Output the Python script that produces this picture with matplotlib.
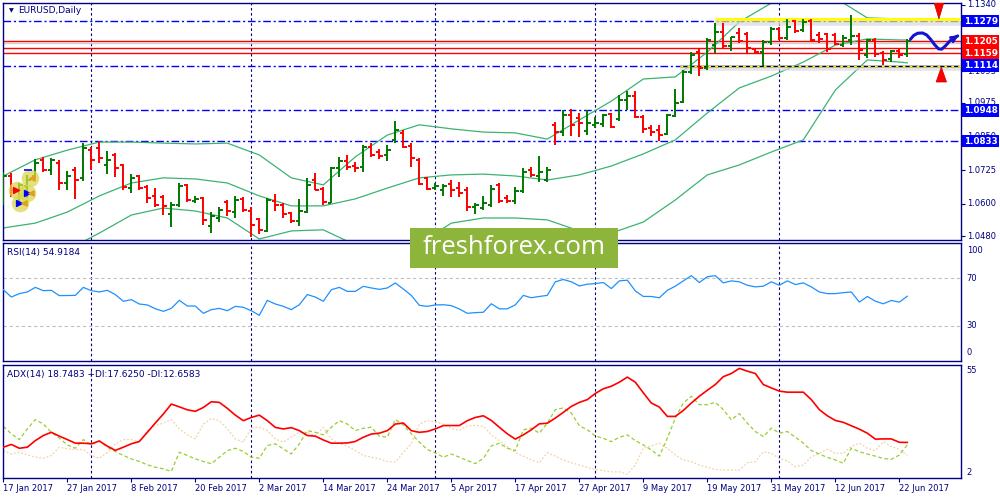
import numpy as np
import matplotlib.pyplot as plt
from matplotlib.patches import Polygon, Rectangle

# values (bar index 0 = 17 Jan 2017, 114 daily bars)
date_labels = ["17 Jan 2017", "27 Jan 2017", "8 Feb 2017", "20 Feb 2017", "2 Mar 2017",
               "14 Mar 2017", "24 Mar 2017", "5 Apr 2017", "17 Apr 2017", "27 Apr 2017",
               "9 May 2017", "19 May 2017", "31 May 2017", "12 Jun 2017", "22 Jun 2017"]
label_bars = [0, 8, 16, 24, 32, 40, 48, 56, 64, 72, 80, 88, 96, 104, 112]
month_start = [11, 31, 54, 74, 97]

open_ = [1.0622, 1.0704, 1.0652, 1.0667, 1.0704, 1.0763, 1.0726, 1.0752, 1.0678, 1.0726,
         1.0697, 1.0801, 1.0808, 1.0745, 1.0782, 1.0745, 1.0659, 1.0704, 1.0663, 1.0630,
         1.0626, 1.0563, 1.0596, 1.0671, 1.0611, 1.0622, 1.0518, 1.0548, 1.0607, 1.0570,
         1.0619, 1.0574, 1.0544, 1.0500, 1.0611, 1.0596, 1.0567, 1.0537, 1.0570, 1.0689,
         1.0656, 1.0604, 1.0734, 1.0760, 1.0741, 1.0737, 1.0812, 1.0793, 1.0782, 1.0838,
         1.0864, 1.0815, 1.0763, 1.0697, 1.0659, 1.0652, 1.0674, 1.0659, 1.0652, 1.0589,
         1.0585, 1.0596, 1.0671, 1.0622, 1.0611, 1.0648, 1.0726, 1.0704, 1.0689, 1.0894,
         1.0867, 1.0931, 1.0919, 1.0871, 1.0894, 1.0897, 1.0934, 1.0916, 1.0986, 1.1001,
         1.0923, 1.0882, 1.0875, 1.0860, 1.0927, 1.0979, 1.1090, 1.1164, 1.1105, 1.1190,
         1.1239, 1.1187, 1.1235, 1.1231, 1.1176, 1.1164, 1.1202, 1.1250, 1.1216, 1.1280,
         1.1246, 1.1280, 1.1228, 1.1231, 1.1228, 1.1190, 1.1209, 1.1224, 1.1153, 1.1209,
         1.1161, 1.1138, 1.1168, 1.1157]
high = [1.0719, 1.0715, 1.0678, 1.0708, 1.0767, 1.0775, 1.0771, 1.0763, 1.0723, 1.0737,
        1.0827, 1.0812, 1.0830, 1.0797, 1.0789, 1.0749, 1.0711, 1.0708, 1.0671, 1.0659,
        1.0633, 1.0607, 1.0678, 1.0674, 1.0630, 1.0626, 1.0570, 1.0589, 1.0615, 1.0630,
        1.0626, 1.0589, 1.0548, 1.0622, 1.0637, 1.0604, 1.0570, 1.0619, 1.0697, 1.0715,
        1.0663, 1.0737, 1.0775, 1.0782, 1.0756, 1.0819, 1.0827, 1.0804, 1.0819, 1.0908,
        1.0875, 1.0827, 1.0771, 1.0700, 1.0678, 1.0674, 1.0689, 1.0682, 1.0663, 1.0604,
        1.0630, 1.0671, 1.0678, 1.0633, 1.0663, 1.0734, 1.0737, 1.0778, 1.0737, 1.0905,
        1.0949, 1.0953, 1.0938, 1.0949, 1.0923, 1.0934, 1.0938, 1.1005, 1.1020, 1.1020,
        1.0931, 1.0894, 1.0894, 1.0934, 1.1027, 1.1098, 1.1164, 1.1179, 1.1216, 1.1272,
        1.1272, 1.1220, 1.1254, 1.1239, 1.1179, 1.1209, 1.1257, 1.1257, 1.1287, 1.1283,
        1.1287, 1.1287, 1.1239, 1.1235, 1.1235, 1.1228, 1.1302, 1.1235, 1.1213, 1.1216,
        1.1168, 1.1172, 1.1176, 1.1213]
low = [1.0596, 1.0626, 1.0596, 1.0622, 1.0697, 1.0719, 1.0708, 1.0652, 1.0652, 1.0619,
       1.0685, 1.0726, 1.0752, 1.0711, 1.0700, 1.0652, 1.0641, 1.0652, 1.0604, 1.0589,
       1.0559, 1.0515, 1.0589, 1.0607, 1.0604, 1.0522, 1.0492, 1.0533, 1.0555, 1.0548,
       1.0570, 1.0478, 1.0489, 1.0496, 1.0574, 1.0548, 1.0529, 1.0518, 1.0567, 1.0652,
       1.0596, 1.0604, 1.0700, 1.0726, 1.0719, 1.0719, 1.0775, 1.0767, 1.0760, 1.0827,
       1.0808, 1.0737, 1.0671, 1.0652, 1.0652, 1.0630, 1.0626, 1.0626, 1.0574, 1.0563,
       1.0578, 1.0589, 1.0604, 1.0604, 1.0600, 1.0641, 1.0700, 1.0682, 1.0682, 1.0819,
       1.0853, 1.0853, 1.0849, 1.0856, 1.0882, 1.0886, 1.0882, 1.0908, 1.0949, 1.0919,
       1.0864, 1.0853, 1.0834, 1.0856, 1.0923, 1.0975, 1.1083, 1.1075, 1.1098, 1.1161,
       1.1176, 1.1168, 1.1198, 1.1161, 1.1161, 1.1112, 1.1190, 1.1209, 1.1209, 1.1235,
       1.1239, 1.1202, 1.1198, 1.1164, 1.1190, 1.1183, 1.1190, 1.1135, 1.1142, 1.1146,
       1.1116, 1.1127, 1.1142, 1.1146]
close = [1.0704, 1.0652, 1.0671, 1.0689, 1.0752, 1.0726, 1.0763, 1.0678, 1.0704, 1.0689,
         1.0808, 1.0763, 1.0771, 1.0763, 1.0734, 1.0663, 1.0697, 1.0659, 1.0622, 1.0596,
         1.0593, 1.0596, 1.0667, 1.0615, 1.0619, 1.0541, 1.0555, 1.0578, 1.0574, 1.0615,
         1.0578, 1.0522, 1.0504, 1.0615, 1.0596, 1.0563, 1.0537, 1.0574, 1.0671, 1.0652,
         1.0607, 1.0734, 1.0760, 1.0737, 1.0734, 1.0812, 1.0782, 1.0778, 1.0801, 1.0875,
         1.0812, 1.0771, 1.0674, 1.0656, 1.0667, 1.0667, 1.0652, 1.0641, 1.0589, 1.0596,
         1.0604, 1.0656, 1.0611, 1.0611, 1.0648, 1.0719, 1.0708, 1.0719, 1.0726, 1.0867,
         1.0931, 1.0894, 1.0901, 1.0901, 1.0901, 1.0931, 1.0886, 1.0986, 1.1001, 1.0923,
         1.0879, 1.0867, 1.0856, 1.0931, 1.0975, 1.1090, 1.1153, 1.1105, 1.1209, 1.1239,
         1.1187, 1.1220, 1.1205, 1.1179, 1.1164, 1.1202, 1.1250, 1.1216, 1.1257, 1.1242,
         1.1276, 1.1209, 1.1213, 1.1176, 1.1194, 1.1216, 1.1224, 1.1172, 1.1209, 1.1157,
         1.1135, 1.1168, 1.1153, 1.1205]

# Bollinger bands, read every 4th bar
band_bars = [0, 4, 8, 12, 16, 20, 24, 28, 32, 36, 40, 44, 48, 52, 56, 60, 64, 68, 72, 76,
             80, 84, 88, 92, 96, 100, 104, 108, 112, 113]
bb_upper = [1.0704, 1.0764, 1.0800, 1.0830, 1.0830, 1.0826, 1.0823, 1.0826, 1.0782, 1.0697,
            1.0671, 1.0775, 1.0856, 1.0894, 1.0879, 1.0867, 1.0864, 1.0841, 1.0912, 1.0982,
            1.1064, 1.1072, 1.1164, 1.1276, 1.1346, 1.1413, 1.1365, 1.1291, 1.1287, 1.1287]
bb_mid = [1.0511, 1.0529, 1.0570, 1.0630, 1.0678, 1.0697, 1.0693, 1.0678, 1.0630, 1.0593,
          1.0593, 1.0619, 1.0659, 1.0697, 1.0708, 1.0711, 1.0704, 1.0689, 1.0708, 1.0741,
          1.0786, 1.0838, 1.0938, 1.1031, 1.1075, 1.1127, 1.1190, 1.1213, 1.1209, 1.1209]
bb_lower = [1.0429, 1.0422, 1.0429, 1.0492, 1.0559, 1.0585, 1.0574, 1.0548, 1.0470, 1.0500,
            1.0504, 1.0448, 1.0422, 1.0452, 1.0529, 1.0548, 1.0548, 1.0541, 1.0500, 1.0492,
            1.0533, 1.0615, 1.0708, 1.0745, 1.0793, 1.0838, 1.1023, 1.1135, 1.1127, 1.1124]

rsi = [60.4, 54.2, 57.1, 58.5, 62.4, 59.6, 59.9, 55.4, 55.5, 55.6,
       62.4, 59.6, 58.5, 59.9, 56.3, 50.6, 52.0, 48.3, 47.5, 44.3,
       42.1, 44.6, 51.4, 46.6, 46.6, 40.4, 43.5, 44.6, 42.6, 46.3,
       45.5, 42.6, 38.7, 51.4, 48.3, 46.3, 43.5, 47.7, 56.3, 54.2,
       50.6, 60.4, 62.4, 59.0, 59.0, 63.3, 61.9, 60.7, 61.9, 66.1,
       61.0, 55.6, 47.2, 46.3, 47.5, 47.7, 46.9, 44.1, 40.4, 41.0,
       41.3, 48.5, 44.2, 44.2, 47.6, 55.6, 53.6, 54.7, 55.6, 67.1,
       69.1, 67.1, 63.6, 65.1, 65.6, 66.5, 61.4, 67.9, 68.5, 59.4,
       54.7, 54.7, 53.6, 59.9, 63.4, 67.9, 72.3, 66.5, 71.4, 72.3,
       66.2, 67.9, 67.1, 64.2, 62.8, 63.4, 67.1, 64.2, 67.9, 64.8,
       66.2, 62.8, 58.5, 57.1, 57.1, 57.9, 58.5, 49.9, 54.7, 50.7,
       48.5, 51.3, 49.9, 54.9]

adx = [16.5, 17.8, 16.0, 16.5, 19.6, 22.0, 23.5, 21.7, 20.1, 18.4,
       18.4, 18.1, 19.4, 17.0, 15.0, 16.5, 18.1, 19.2, 23.5, 27.9,
       32.1, 36.8, 35.5, 34.1, 33.4, 35.2, 37.9, 37.6, 34.8, 31.6,
       29.0, 30.5, 31.6, 29.0, 25.8, 25.1, 25.7, 24.3, 22.0, 21.7,
       19.9, 18.4, 18.4, 18.5, 19.2, 21.2, 22.7, 23.1, 24.3, 27.4,
       27.9, 24.3, 23.5, 23.9, 25.1, 26.7, 26.7, 26.7, 29.0, 30.5,
       31.3, 29.1, 25.9, 22.8, 20.3, 22.3, 24.7, 27.5, 27.8, 30.2,
       32.9, 35.7, 37.6, 38.9, 41.8, 44.0, 45.2, 47.1, 49.5, 47.1,
       42.1, 37.3, 35.4, 31.0, 31.0, 33.8, 37.3, 40.5, 43.3, 46.0,
       49.7, 51.2, 53.6, 52.3, 51.2, 46.0, 44.4, 42.9, 42.4, 42.4,
       42.4, 38.9, 34.2, 31.3, 29.1, 28.2, 26.6, 25.0, 23.1, 20.3,
       20.4, 20.4, 18.8, 18.75]
plus_di = [26.3, 22.8, 20.1, 25.1, 29.5, 27.4, 23.5, 20.8, 17.6, 16.0,
           20.1, 17.6, 19.6, 16.5, 14.5, 12.6, 11.0, 9.8, 8.2, 7.1,
           6.3, 5.1, 14.1, 12.6, 11.0, 9.8, 8.7, 11.8, 14.9, 16.0,
           14.5, 11.8, 11.3, 17.3, 18.1, 15.7, 13.3, 18.1, 24.3, 23.5,
           22.3, 25.9, 29.0, 27.4, 24.3, 25.4, 25.9, 21.7, 21.2, 29.5,
           27.0, 22.8, 18.9, 15.4, 13.8, 11.8, 13.3, 11.8, 10.2, 8.8,
           11.2, 17.1, 18.4, 16.0, 14.9, 24.7, 25.5, 23.1, 27.8, 34.2,
           35.0, 32.6, 26.6, 24.7, 21.8, 20.7, 19.1, 21.2, 22.3, 19.6,
           17.6, 15.2, 12.3, 20.7, 30.2, 37.3, 40.5, 36.5, 36.5, 37.6,
           34.2, 29.4, 32.3, 27.8, 23.9, 21.5, 25.5, 23.1, 23.9, 21.2,
           18.4, 14.9, 13.3, 11.7, 10.5, 8.9, 16.0, 14.4, 13.3, 12.3,
           11.2, 10.8, 12.8, 17.6]
minus_di = [14.9, 13.3, 14.1, 12.9, 11.8, 11.3, 12.6, 16.5, 15.7, 15.4,
            15.4, 12.6, 11.3, 14.1, 18.1, 20.1, 20.1, 18.9, 24.3, 26.6,
            27.9, 29.5, 25.1, 22.3, 20.4, 27.4, 30.0, 29.0, 25.1, 20.4,
            18.9, 25.6, 25.9, 24.3, 20.4, 18.9, 21.2, 23.5, 23.5, 22.0,
            25.9, 20.4, 18.1, 17.0, 14.9, 12.6, 11.8, 11.0, 9.8, 9.5,
            14.1, 18.1, 27.4, 29.0, 28.5, 27.4, 25.4, 24.3, 26.6, 26.8,
            26.3, 22.3, 19.6, 16.8, 13.9, 12.3, 10.5, 9.2, 13.9, 12.3,
            10.5, 9.2, 8.1, 7.0, 6.0, 5.4, 4.9, 4.9, 3.8, 8.1,
            16.0, 17.1, 18.4, 16.0, 12.8, 10.5, 9.7, 8.1, 7.0, 6.0,
            5.7, 5.7, 5.7, 9.2, 9.7, 14.4, 13.6, 11.2, 10.1, 7.3,
            8.1, 12.0, 13.6, 15.5, 13.6, 13.6, 16.8, 18.4, 16.0, 14.9,
            19.1, 16.8, 15.5, 12.66]

blue_levels = [1.1279, 1.1114, 1.0948, 1.0833]
red_levels = [1.1205, 1.1178, 1.1159]
price_ticks = [1.1340, 1.1215, 1.1093, 1.0975, 1.0850, 1.0725, 1.0600, 1.0480]
tick_labels = [1.1340, 1.1093, 1.0975, 1.0850, 1.0725, 1.0600, 1.0480]

NAVY = "#000080"
plt.rcParams["font.family"] = ["DejaVu Sans"]

fig = plt.figure(figsize=(10, 5), dpi=100)
W, H = 1000, 500
def box(x0, y0, x1, y1):
    return [x0 / W, 1 - y1 / H, (x1 - x0) / W, (y1 - y0) / H]

ax = fig.add_axes(box(3, 3, 961, 240))
ax_rsi = fig.add_axes(box(3, 243, 961, 361))
ax_adx = fig.add_axes(box(3, 365, 961, 478))

n = len(close)
x = np.arange(n)
xlim = (-0.04, -0.04 + 958 / 8)
for a in (ax, ax_rsi, ax_adx):
    a.set_xlim(*xlim)
    for s in a.spines.values():
        s.set_color(NAVY)
        s.set_linewidth(1)
    a.set_xticks([])
    a.set_yticks([])
    for m in month_start:
        a.axvline(m, color=NAVY, lw=0.8, ls=(0, (2.3, 2.3)), zorder=1)

# ---- price panel ----
ax.set_ylim(1.04663, 1.13463)
for p in blue_levels:
    ax.axhline(p, color="#0000ff", lw=1, ls=(0, (5.5, 2, 1.5, 2)), zorder=1.5)
ax.axhline(1.1197, color="#d0d0d0", lw=1, zorder=1.5)
for p in red_levels:
    ax.axhline(p, color="#ff0000", lw=1, zorder=1.6)

ax.plot(band_bars, bb_upper, color="#3cb371", lw=0.9, zorder=2)
ax.plot(band_bars, bb_mid, color="#3cb371", lw=0.9, zorder=2)
ax.plot(band_bars, bb_lower, color="#3cb371", lw=0.9, zorder=2)

o = np.array(open_); c = np.array(close)
cols = np.where(c >= o, "#007800", "#ff0000")
ax.vlines(x, low, high, colors=cols, lw=1.4, zorder=3)
ax.hlines(o, x - 0.42, x, colors=cols, lw=1.4, zorder=3)
ax.hlines(c, x, x + 0.42, colors=cols, lw=1.4, zorder=3)

# shaded yellow range markers drawn on the chart
ax.hlines(1.1272, 88.9, xlim[1], color="#d9d9d9", lw=4, alpha=0.7, zorder=2.5)
ax.hlines(1.1287, 88.9, xlim[1], color="#ffff00", lw=2.2, zorder=2.6)
ax.hlines(1.1106, 84.6, xlim[1], color="#d9d9d9", lw=4, alpha=0.7, zorder=2.5)
ax.hlines(1.1114, 84.6, xlim[1], color="black", lw=1, zorder=2.6)
ax.hlines(1.1114, 84.6, xlim[1], color="#ffff00", lw=1, ls=(0, (2, 3)), zorder=2.7)

# trade markers at the left edge
ax.scatter([3.3, 1.7, 3.0, 2.1], [1.0697, 1.0652, 1.0641, 1.0604], s=160,
           color="#dcd850", alpha=0.75, lw=0, zorder=3.5)
ax.scatter([1.6], [1.0652], marker=">", s=18, color="#ff0000", zorder=4)
ax.scatter([2.9, 1.9], [1.0641, 1.0604], marker=">", s=18, color="#0000ff", zorder=4)
ax.scatter([3.6, 2.6, 3.4], [1.0697, 1.0604, 1.0641], marker="<", s=14, color="#e0a020", zorder=4)
ax.hlines(1.0728, 2.6, 3.6, color="#0000ff", lw=1.2, zorder=4)

# forecast arrows and curve
ax.add_patch(Polygon([(116.3, 1.1352), (117.6, 1.1352), (116.95, 1.1287)],
                     closed=True, fc="#ff0000", ec="#c00000", lw=0.5, zorder=5))
ax.add_patch(Polygon([(116.6, 1.1053), (117.9, 1.1053), (117.25, 1.1108)],
                     closed=True, fc="#ff0000", ec="#c00000", lw=0.5, zorder=5))
wave_x = [113.4, 113.8, 114.3, 114.9, 115.4, 115.9, 116.4, 116.9, 117.3, 117.8, 118.3, 118.8, 119.3]
wave_y = [1.1212, 1.1226, 1.1234, 1.1235, 1.1228, 1.1212, 1.1192, 1.1176, 1.1175, 1.1188, 1.1205, 1.1216, 1.1224]
ax.plot(wave_x, wave_y, color="#1414d0", lw=2.2, solid_capstyle="round", zorder=5, clip_on=False)
ax.annotate("", xy=(119.7, 1.1232), xytext=(118.7, 1.1213),
            arrowprops=dict(arrowstyle="->", color="#1414d0", lw=2, mutation_scale=9),
            zorder=5, annotation_clip=False)

ytr = ax.get_yaxis_transform()
ax.set_yticks(price_ticks)
ax.yaxis.tick_right()
ax.tick_params(axis="y", length=3, width=0.8, color=NAVY, labelright=False)
for p in tick_labels:
    ax.text(1.006, p, f"{p:.4f}", transform=ytr, fontsize=6, color=NAVY,
            va="center", ha="left", clip_on=False, zorder=6)

def price_box(p, fc):
    ax.text(1.0028, p, f"{p:.4f}", transform=ytr, fontsize=6.3, color="white",
            fontweight="bold", va="center", ha="left", clip_on=False, zorder=7,
            bbox=dict(boxstyle="square,pad=0.2", fc=fc, ec="none"))

price_box(1.1279, "#0000ff")
price_box(1.1178, "#ff0000")
price_box(1.1205, "#ff0000")
price_box(1.1159, "#ff0000")
for p in blue_levels[1:]:
    price_box(p, "#0000ff")

ax.text(0.006, 0.968, "▼", transform=ax.transAxes, fontsize=4.5, color=NAVY, va="center")
ax.text(0.016, 0.968, "EURUSD,Daily", transform=ax.transAxes, fontsize=6.5, color=NAVY, va="center")

# ---- RSI ----
ax_rsi.set_ylim(0, 100)
for lv in (70, 30):
    ax_rsi.axhline(lv, color="#c0c0c0", lw=0.8, ls=(0, (3, 2.5)), zorder=1)
ax_rsi.plot(x, rsi, color="#1e90ff", lw=0.9, zorder=3)
rtr = ax_rsi.get_yaxis_transform()
for txt, v in (("100", 94), ("70", 70), ("30", 30), ("0", 7)):
    ax_rsi.text(1.006, v, txt, transform=rtr, fontsize=6, color=NAVY, va="center", ha="left")
ax_rsi.text(0.004, 0.92, "RSI(14) 54.9184", transform=ax_rsi.transAxes, fontsize=6.5,
            color=NAVY, va="center")

# ---- ADX ----
ax_adx.set_ylim(2, 55.2)
ax_adx.plot(x, minus_di, color="#f2d3a6", lw=0.9, ls=(0, (1.5, 1.5)), zorder=2)
ax_adx.plot(x, plus_di, color="#9acd32", lw=0.9, ls=(0, (3, 2)), zorder=2.5)
ax_adx.plot(x, adx, color="#ff0000", lw=1.2, zorder=3)
atr = ax_adx.get_yaxis_transform()
ax_adx.text(1.006, 52.6, "55", transform=atr, fontsize=6, color=NAVY, va="center", ha="left")
ax_adx.text(1.006, 4.6, "2", transform=atr, fontsize=6, color=NAVY, va="center", ha="left")
ax_adx.text(0.004, 0.92, "ADX(14) 18.7483 +DI:17.6250 -DI:12.6583", transform=ax_adx.transAxes,
            fontsize=6.5, color=NAVY, va="center")

ax_adx.set_xticks(label_bars)
ax_adx.tick_params(axis="x", length=3, width=0.8, color=NAVY, labelbottom=False)
xtr = ax_adx.get_xaxis_transform()
for b, lab in zip(label_bars, date_labels):
    ax_adx.text(b - 0.1, -0.09, lab, transform=xtr, fontsize=6, color=NAVY,
                va="center", ha="left", clip_on=False)

# watermark
fig.add_artist(Rectangle((410 / W, 1 - 268 / H), 208 / W, 40 / H, transform=fig.transFigure,
                         fc="#8db53c", ec="none", zorder=10))
fig.text(514 / W, 1 - 247 / H, "freshforex.com", fontsize=18.5, color="white",
         family="Open Sans", ha="center", va="center", zorder=11)

fig.savefig("out.png", dpi=100, facecolor="white")
